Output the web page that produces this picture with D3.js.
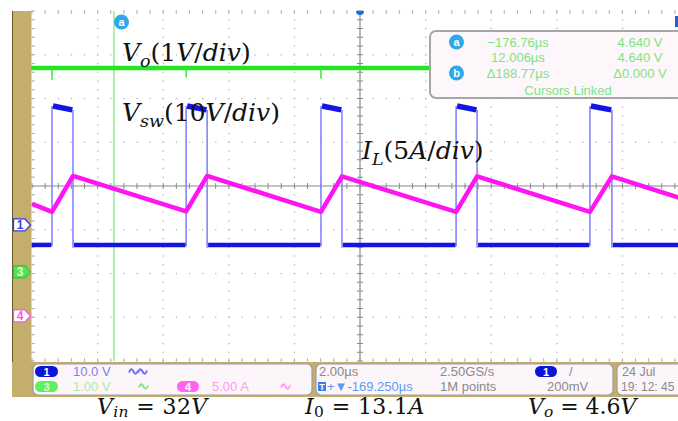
<!DOCTYPE html>
<html><head><meta charset="utf-8">
<script src="https://cdn.jsdelivr.net/npm/d3@7"></script>
<style>body{margin:0;background:#fff}svg{display:block}</style>
</head><body><svg id="c" width="678" height="421"></svg>
<script>
// ---------- data ----------
const timeDomain = [0, 20];            // µs across 10 div (2.00 µs/div)
const divDomain = [-4, 4];             // vertical divisions
const chScale = {"1": 10, "3": 1, "4": 5};        // V/div, V/div, A/div
const chPos = {"1": -0.89, "3": -1.96, "4": -2.97}; // ground marker positions (div)

// switch node voltage Vsw (channel 1)
const swOnTimes  = [0.61, 4.70, 8.81, 12.93, 17.01];  // µs, rising edges
const swOffTimes = [1.25, 5.34, 9.45, 13.57, 17.68];  // µs, falling edges
const swHighStart = [27.2, 27.2, 27.2, 27.2, 27.2];   // V
const swHighEnd   = [26.3, 26.3, 26.3, 26.3, 26.3];   // V
const swLow = -4.57;                                   // V
const swEdgeLow = -5.2;                                // V, edge undershoot

// output voltage Vo (channel 3)
const voLevel = 4.66;                                   // V
const voSpikeTimes = [0.61, 4.70, 8.81, 12.93, 17.01];  // µs
const voSpikeDepth = [-0.27, -0.22, -0.25, -0.2, -0.2]; // V

// inductor current IL (channel 4)
const ilTimes = [0, 0.61, 1.25, 4.70, 5.34, 8.81, 9.45, 12.93, 13.57, 17.01, 17.68, 20];
const ilAmps  = [12.8, 11.9, 16.0, 11.95, 16.0, 11.9, 15.95, 11.9, 15.95, 11.9, 15.95, 13.2];

// cursor
const cursorATime = 2.5; // µs
const cursorCol1 = ["\u2212176.76\u00b5s", "12.006\u00b5s", "\u0394188.77\u00b5s"];
const cursorCol2 = ["4.640 V", "4.640 V", "\u03940.000 V"];

// ---------- drawing ----------
const svg = d3.select("#c");
const X0 = 32, DIVX = 65.6, Y0 = 11, DIVY = 43.75;
const x = d3.scaleLinear().domain(timeDomain).range([X0, X0 + 10 * DIVX]);
const y = d3.scaleLinear().domain(divDomain).range([Y0 + 8 * DIVY, Y0]);
const yc = (ch, v) => y(chPos[ch] + v / chScale[ch]);

const TAN = "#c4ae6c";
svg.append("rect").attr("x", 0).attr("y", 0).attr("width", 678).attr("height", 421).attr("fill", "#fff");

// graticule
const g = svg.append("g");
const dotCol = "#b4b4b4";
d3.range(0, 11).forEach(i => {
  if (i === 5) return;
  d3.range(-4, 4.001, 0.2).forEach(d => {
    g.append("rect").attr("x", x(i * 2) - 0.6).attr("y", y(d) - 0.6).attr("width", 1.3).attr("height", 1.3).attr("fill", dotCol);
  });
});
d3.range(-4, 5).forEach(j => {
  if (j === 0) return;
  d3.range(0, 20.001, 0.4).forEach(t => {
    g.append("rect").attr("x", x(t) - 0.6).attr("y", y(j) - 0.6).attr("width", 1.3).attr("height", 1.3).attr("fill", dotCol);
  });
});
d3.range(-4, 4.001, 0.2).forEach(d => {
  g.append("line").attr("x1", x(0)).attr("x2", x(0) + 3).attr("y1", y(d)).attr("y2", y(d)).attr("stroke", dotCol);
});
d3.range(0, 20.001, 0.4).forEach(t => {
  g.append("line").attr("x1", x(t)).attr("x2", x(t)).attr("y1", y(-4)).attr("y2", y(-4) - 3).attr("stroke", dotCol);
  g.append("line").attr("x1", x(t)).attr("x2", x(t)).attr("y1", y(4)).attr("y2", y(4) + 3).attr("stroke", dotCol);
});
const axCol = "#8a8a8a";
g.append("line").attr("x1", x(0)).attr("x2", 678).attr("y1", y(0)).attr("y2", y(0)).attr("stroke", axCol).attr("stroke-width", 1.2);
g.append("line").attr("x1", x(10)).attr("x2", x(10)).attr("y1", y(4)).attr("y2", y(-4)).attr("stroke", axCol).attr("stroke-width", 1.2);
d3.range(0, 20.001, 0.4).forEach(t => {
  g.append("line").attr("x1", x(t)).attr("x2", x(t)).attr("y1", y(0) - 3).attr("y2", y(0) + 3).attr("stroke", axCol);
});
d3.range(-4, 4.001, 0.2).forEach(d => {
  g.append("line").attr("x1", x(10) - 3).attr("x2", x(10) + 3).attr("y1", y(d)).attr("y2", y(d)).attr("stroke", axCol);
});

// clip for traces
svg.append("clipPath").attr("id", "clip").append("rect")
  .attr("x", 31).attr("y", y(4)).attr("width", 678 - 31).attr("height", y(-4) - y(4));
const tr = svg.append("g").attr("clip-path", "url(#clip)");

// cursor a line
tr.append("line").attr("x1", x(cursorATime)).attr("x2", x(cursorATime)).attr("y1", y(4)).attr("y2", y(-4) + 2)
  .attr("stroke", "#8ef08e").attr("stroke-width", 1.5);

// Vsw trace
const lowSegs = [[timeDomain[0] - 0.05, swOnTimes[0]]];
swOffTimes.forEach((t, i) => lowSegs.push([t, i + 1 < swOnTimes.length ? swOnTimes[i + 1] : timeDomain[1]]));
const edgeCol = "#8484ff";
swOnTimes.forEach((t, i) => {
  tr.append("line").attr("x1", x(t)).attr("x2", x(t)).attr("y1", yc("1", swLow - 0.3)).attr("y2", yc("1", swHighStart[i]))
    .attr("stroke", edgeCol).attr("stroke-width", 1.6);
  tr.append("line").attr("x1", x(swOffTimes[i])).attr("x2", x(swOffTimes[i])).attr("y1", yc("1", swHighEnd[i])).attr("y2", yc("1", swEdgeLow))
    .attr("stroke", edgeCol).attr("stroke-width", 1.6);
});
const swLine = d3.line().x(d => x(d[0])).y(d => yc("1", d[1]));
lowSegs.forEach(s => {
  tr.append("path").attr("d", swLine([[s[0] + 0.03, swLow], [s[1] - 0.02, swLow]]))
    .attr("fill", "none").attr("stroke", "#1414e4").attr("stroke-width", 4.5);
});
swOnTimes.forEach((t, i) => {
  tr.append("path").attr("d", swLine([[t + 0.03, swHighStart[i]], [swOffTimes[i] - 0.02, swHighEnd[i]]]))
    .attr("fill", "none").attr("stroke", "#1414e4").attr("stroke-width", 5.5);
});

// Vo trace
tr.append("line").attr("x1", x(timeDomain[0]) - 2).attr("x2", x(timeDomain[1])).attr("y1", yc("3", voLevel)).attr("y2", yc("3", voLevel))
  .attr("stroke", "#22e622").attr("stroke-width", 4.5);
voSpikeTimes.forEach((t, i) => {
  tr.append("line").attr("x1", x(t)).attr("x2", x(t)).attr("y1", yc("3", voLevel)).attr("y2", yc("3", voLevel + voSpikeDepth[i]))
    .attr("stroke", "#3ce63c").attr("stroke-width", 1.5);
});

// IL trace
const ilLine = d3.line().x((d, i) => x(ilTimes[i])).y(d => yc("4", d));
tr.append("path").attr("d", ilLine(ilAmps)).attr("fill", "none").attr("stroke", "#ff14f2")
  .attr("stroke-width", 4.5).attr("stroke-linejoin", "round");

// left tan strip and bottom band
svg.append("rect").attr("x", 12).attr("y", y(4)).attr("width", 19.5).attr("height", 397 - y(4)).attr("fill", TAN);
svg.append("line").attr("x1", 12.5).attr("x2", 12.5).attr("y1", y(4)).attr("y2", 397).attr("stroke", "#6a5a2a").attr("stroke-width", 1);
svg.append("rect").attr("x", 12).attr("y", 362).attr("width", 666).attr("height", 35).attr("fill", TAN);

// channel markers on left
const markers = [
  {ch: "1", fill: "#ffffff", stroke: "#3a3ae0", text: "#3a3ae0"},
  {ch: "3", fill: "#52e452", stroke: "#3cc83c", text: "#d8ffd8"},
  {ch: "4", fill: "#ffffff", stroke: "#ff50f0", text: "#ff50f0"}
];
markers.forEach(m => {
  const cy = y(chPos[m.ch]);
  svg.append("path").attr("d", `M13.5,${cy - 6}L25,${cy - 6}L30.5,${cy}L25,${cy + 6}L13.5,${cy + 6}Z`)
    .attr("fill", m.fill).attr("stroke", m.stroke).attr("stroke-width", 1.3);
  svg.append("text").attr("x", 20).attr("y", cy + 4.5).attr("text-anchor", "middle")
    .attr("font-family", "Liberation Sans, Arial, sans-serif").attr("font-size", 12).attr("font-weight", "bold")
    .attr("fill", m.text).text(m.ch);
});

// top markers
svg.append("path").attr("d", `M${x(10) - 4},${y(4)}A4,4 0 0 0 ${x(10) + 4},${y(4)}Z`).attr("fill", "#1c6de0");
svg.append("rect").attr("x", 675).attr("y", 16).attr("width", 4).attr("height", 11).attr("fill", "#2060e0");
function badge(cx, cy, letter, r) {
  svg.append("circle").attr("cx", cx).attr("cy", cy).attr("r", r).attr("fill", "#2ea8ea");
  svg.append("text").attr("x", cx).attr("y", cy + 3.8).attr("text-anchor", "middle")
    .attr("font-family", "Liberation Sans, Arial, sans-serif").attr("font-size", 11).attr("font-weight", "bold")
    .attr("fill", "#fff").text(letter);
}
badge(x(cursorATime) + 7.5, 22, "a", 7.5);

// cursor box
const SANS = "Liberation Sans, Arial, sans-serif";
svg.append("rect").attr("x", 430).attr("y", 31).attr("width", 262).attr("height", 67).attr("rx", 6)
  .attr("fill", "#fdf6fb").attr("stroke", "#a6a6a6").attr("stroke-width", 2);
badge(456.5, 42, "a", 7.5);
badge(456.5, 73, "b", 7.5);
const cRowY = [42, 57, 73];
const txtGreen = "#80e480";
cursorCol1.forEach((s, i) => {
  svg.append("text").attr("x", 518).attr("y", cRowY[i] + 4.8).attr("text-anchor", "middle")
    .attr("font-family", SANS).attr("font-size", 13).attr("fill", txtGreen).text(s);
});
cursorCol2.forEach((s, i) => {
  svg.append("text").attr("x", 640).attr("y", cRowY[i] + 4.8).attr("text-anchor", "middle")
    .attr("font-family", SANS).attr("font-size", 13).attr("fill", txtGreen).text(s);
});
svg.append("text").attr("x", 568).attr("y", 94.5).attr("text-anchor", "middle")
  .attr("font-family", SANS).attr("font-size", 13).attr("fill", txtGreen).text("Cursors Linked");

// bottom info boxes
const boxes = [[33, 279], [316, 297], [617, 80]];
boxes.forEach(b => {
  svg.append("rect").attr("x", b[0]).attr("y", 364).attr("width", b[1]).attr("height", 31).attr("rx", 5)
    .attr("fill", "#fcf5fa").attr("stroke", "#9c9c9c").attr("stroke-width", 1.2);
});
function pill(x0, cy, w, fill, tcol, label) {
  svg.append("rect").attr("x", x0).attr("y", cy - 5.5).attr("width", w).attr("height", 11).attr("rx", 5.5).attr("fill", fill);
  svg.append("text").attr("x", x0 + w / 2).attr("y", cy + 4).attr("text-anchor", "middle")
    .attr("font-family", SANS).attr("font-size", 11).attr("font-weight", "bold").attr("fill", tcol).text(label);
}
function info(xp, cy, s, col, size) {
  svg.append("text").attr("x", xp).attr("y", cy + 4.6).attr("font-family", SANS).attr("font-size", size || 13).attr("fill", col).text(s);
}
const R1 = 371.5, R2 = 386.5;
pill(35, R1, 23, "#0c14d8", "#fff", "1");
info(73, R1, "10.0 V", "#7c80f2");
pill(35, R2, 23, "#5ef05e", "#d8ffd8", "3");
info(73, R2, "1.00 V", "#a4eea4");
pill(177, R2, 22, "#ff66ee", "#fff", "4");
info(212, R2, "5.00 A", "#ff9cf0");
const wave = (x0, cy, col, n) => {
  let d = "";
  for (let k = 0; k < n; k++) {
    const xs = x0 + k * 9;
    d += `M${xs},${cy + 1}Q${xs + 2},${cy - 5} ${xs + 4.5},${cy}T${xs + 9},${cy - 1}`;
  }
  svg.append("path").attr("d", d).attr("fill", "none").attr("stroke", col).attr("stroke-width", 2);
};
wave(129, R1, "#6a70f0", 2);
wave(139, R2, "#8ee08e", 1);
wave(281, R2, "#ff9cf0", 1);

info(319, R1, "2.00\u00b5s", "#8a8a8a");
svg.append("rect").attr("x", 318).attr("y", R2 - 4.5).attr("width", 8).attr("height", 9).attr("fill", "#3a7ee8");
svg.append("text").attr("x", 322).attr("y", R2 + 3.5).attr("text-anchor", "middle").attr("font-family", SANS)
  .attr("font-size", 9).attr("font-weight", "bold").attr("fill", "#fff").text("T");
info(327, R2, "+\u25bc-169.250\u00b5s", "#5c9cf0");
info(440, R1, "2.50GS/s", "#8a8a8a");
info(440, R2, "1M points", "#8a8a8a");
pill(535, R1, 22, "#0c14d8", "#fff", "1");
info(569, R1, "/", "#8a8a8a");
info(547, R2, "200mV", "#8a8a8a");
info(622, R1, "24 Jul", "#8a8a8a", 12.5);
info(621, R2, "19: 12: 45", "#8a8a8a", 12);

// math labels
const SERIF = "DejaVu Serif, serif";
function mathLabel(xp, yp, parts, size, subShift, spacing) {
  const t = svg.append("text").attr("x", xp).attr("y", yp).attr("font-family", SERIF).attr("font-size", size)
    .attr("letter-spacing", spacing || 0).attr("fill", "#111");
  let sub = false;
  parts.forEach(p => {
    const ts = t.append("tspan").text(p.t).attr("font-style", p.it ? "italic" : "normal");
    if (p.sub) { ts.attr("font-size", size * 0.7).attr("dy", subShift); sub = true; }
    else if (sub) { ts.attr("dy", -subShift); sub = false; }
  });
}
mathLabel(122, 61, [{t: "V", it: 1}, {t: "o", it: 1, sub: 1}, {t: "(1"}, {t: "V", it: 1}, {t: "/"}, {t: "div", it: 1}, {t: ")"}], 25, 6);
mathLabel(122, 121, [{t: "V", it: 1}, {t: "sw", it: 1, sub: 1}, {t: "(10"}, {t: "V", it: 1}, {t: "/"}, {t: "div", it: 1}, {t: ")"}], 25, 6);
mathLabel(362, 159, [{t: "I", it: 1}, {t: "L", it: 1, sub: 1}, {t: "(5"}, {t: "A", it: 1}, {t: "/"}, {t: "div", it: 1}, {t: ")"}], 25, 6);
mathLabel(97, 414, [{t: "V", it: 1}, {t: "in", it: 1, sub: 1}, {t: " = 32"}, {t: "V", it: 1}], 22, 2.5, 0.4);
mathLabel(305, 414, [{t: "I", it: 1}, {t: "0", sub: 1}, {t: " = 13.1"}, {t: "A", it: 1}], 22, 2.5, 0.4);
mathLabel(528, 414, [{t: "V", it: 1}, {t: "o", it: 1, sub: 1}, {t: " = 4.6"}, {t: "V", it: 1}], 22, 2.5, 0);
</script></body></html>
